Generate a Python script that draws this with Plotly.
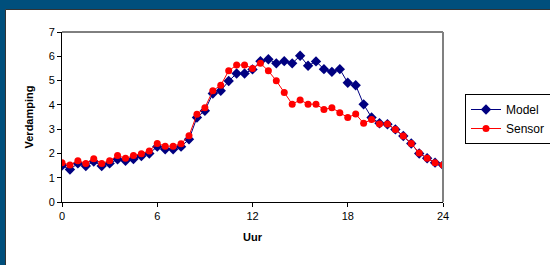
import plotly.graph_objects as go

hours = [i * 0.5 for i in range(49)]

model = [1.50, 1.34, 1.59, 1.48, 1.67, 1.48, 1.59, 1.76, 1.70, 1.77,
         1.89, 2.00, 2.28, 2.17, 2.17, 2.28, 2.58, 3.48, 3.76, 4.47,
         4.58, 4.98, 5.29, 5.29, 5.46, 5.80, 5.88, 5.71, 5.80, 5.71,
         6.02, 5.61, 5.79, 5.47, 5.36, 5.47, 4.91, 4.81, 4.02, 3.48,
         3.24, 3.20, 2.99, 2.72, 2.41, 2.00, 1.80, 1.62, 1.52]

sensor = [1.62, 1.52, 1.70, 1.59, 1.78, 1.59, 1.70, 1.91, 1.80, 1.91,
          1.99, 2.10, 2.41, 2.30, 2.30, 2.40, 2.73, 3.61, 3.88, 4.58,
          4.81, 5.40, 5.64, 5.64, 5.50, 5.71, 5.40, 4.99, 4.51, 4.03,
          4.20, 4.03, 4.03, 3.81, 3.88, 3.68, 3.48, 3.62, 3.24, 3.40,
          3.21, 3.21, 2.99, 2.72, 2.41, 2.02, 1.80, 1.62, 1.52]

x_ticks = [0, 6, 12, 18, 24]
y_ticks = [0, 1, 2, 3, 4, 5, 6, 7]

W, H = 550, 265
L, R, T, B = 62, 443, 32, 202
pw, ph = R - L, B - T

def px(x):
    return (x - L) / pw

def py(y):
    return (B - y) / ph

FONT = "Arial, Liberation Sans, sans-serif"

fig = go.Figure()
fig.add_trace(go.Scatter(
    x=hours, y=model, name="Model", mode="lines+markers",
    line=dict(color="#000080", width=1),
    marker=dict(symbol="diamond", size=8, color="#000080"),
))
fig.add_trace(go.Scatter(
    x=hours, y=sensor, name="Sensor", mode="lines+markers",
    line=dict(color="#FF0000", width=1),
    marker=dict(symbol="circle", size=7, color="#FF0000"),
))

fig.update_layout(
    width=W, height=H,
    margin=dict(l=L, r=W - R, t=T, b=H - B, pad=0, autoexpand=False),
    paper_bgcolor="#004F7C",
    plot_bgcolor="white",
    font=dict(family=FONT, size=11, color="#000"),
    showlegend=True,
    legend=dict(
        x=px(465), y=py(94), xanchor="left", yanchor="top",
        bgcolor="white", bordercolor="black", borderwidth=1,
        font=dict(size=12, color="#000"), itemwidth=30,
        tracegroupgap=0,
    ),
    xaxis=dict(
        range=[0, 24], tickvals=x_ticks, ticktext=[str(v) for v in x_ticks],
        showgrid=False, zeroline=False, showline=True, linecolor="black",
        linewidth=1, ticks="outside", ticklen=4, tickcolor="black",
        title=dict(text="<b>Uur</b>", font=dict(size=11), standoff=12),
        tickfont=dict(size=11), automargin=False,
    ),
    yaxis=dict(
        range=[0, 7], tickvals=y_ticks, ticktext=[str(v) for v in y_ticks],
        showgrid=False, zeroline=False, showline=True, linecolor="black",
        linewidth=1, ticks="outside", ticklen=4, tickcolor="black",
        title=dict(text="<b>Verdamping</b>", font=dict(size=11), standoff=12),
        tickfont=dict(size=11), automargin=False,
    ),
    shapes=[
        dict(type="rect", xref="paper", yref="paper", layer="below",
             x0=px(5.5), x1=px(560), y0=py(9.5), y1=py(280),
             fillcolor="white", line=dict(color="#333333", width=1)),
        dict(type="line", xref="paper", yref="paper",
             x0=0, x1=1, y0=1, y1=1, line=dict(color="black", width=1)),
        dict(type="line", xref="paper", yref="paper",
             x0=1, x1=1, y0=0, y1=1, line=dict(color="#808080", width=2)),
    ],
    annotations=[
        dict(text="Verdamping", xref="paper", yref="paper",
             x=px(151), y=py(-16), xanchor="center", yanchor="middle",
             showarrow=False, font=dict(size=28, color="white", family=FONT)),
    ],
)

fig.write_html(
    "out.html",
    config={"displayModeBar": False},
    post_script="document.body.style.margin='0';document.body.style.background='#004F7C';",
)
